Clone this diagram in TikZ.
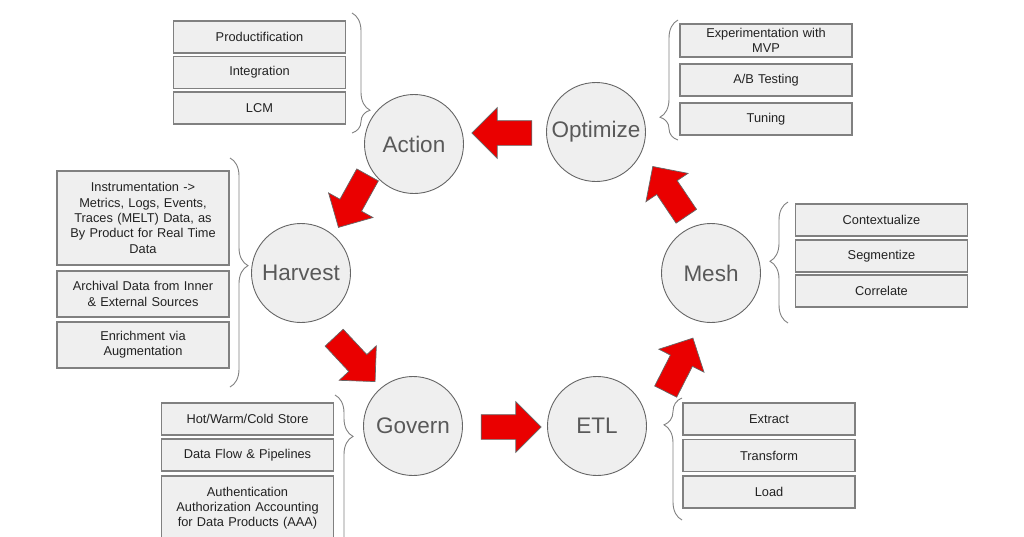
\documentclass[tikz,border=0pt]{standalone}
\usepackage{fontspec}
\setmainfont{Liberation Sans}
\usepackage{tikz}
\usetikzlibrary{calc,positioning,shapes.arrows,decorations.pathreplacing}
\definecolor{stagefill}{RGB}{239,239,239}
\definecolor{stageline}{RGB}{102,102,102}
\definecolor{stagetext}{RGB}{89,89,89}
\definecolor{boxline}{RGB}{128,128,128}
\definecolor{boxtext}{RGB}{34,34,34}
\definecolor{flowred}{RGB}{234,0,0}
\tikzset{
stage/.style={circle, draw=stageline, line width=0.9, fill=stagefill, minimum size=99pt, inner sep=0pt, text=stagetext, font=\fontsize{22.5}{27}\selectfont}, % the six round steps
item/.style={draw=boxline, line width=1.4, fill=stagefill, minimum width=172pt, minimum height=32pt, text width=168pt, align=center, inner sep=0pt, text=boxtext, font=\fontsize{12.8}{15.3}\selectfont},
flow/.style={single arrow, draw=stageline, line width=0.7, fill=flowred, minimum height=60pt, inner xsep=0pt, inner ysep=12pt, single arrow head extend=13pt}, % fat red arrows
curly/.style={decorate, draw=boxline, line width=0.9, decoration={brace, amplitude=18pt}},
}
\tikzset{
    between/.style args={#1 and #2}{
         at = ($(#1)!0.5!(#2)$)
    }
}
\begin{document}
\begin{tikzpicture}[x=1pt,y=1pt,yscale=-1,xscale=1]
		\useasboundingbox (0,0) rectangle (1024,536);
		
		% Steps
		\node[stage] (action) at (414,144) {Action};
		\node[stage] (optimize) at (596,132) {Optimize};
		\node[stage] (harvest) at (301,273) {Harvest};
		\node[stage] (govern) at (413,426) {Govern};
		\node[stage] (etl) at (597,426) {ETL};
		\node[stage] (mesh) at (711,273) {Mesh};
		
		% Arrows (shift is not flipped, so y goes up here)
		\node[flow, shift={(3,5)}, rotate=180, between=optimize and action] (a1) {};
		\node[flow, shift={(-1.5,12.75)}, rotate=241, between=action and harvest] (a2) {};
		\node[flow, shift={(-6.6,-5.6)}, rotate=313, between=harvest and govern] (a3) {};
		\node[flow, shift={(0,-1)}, rotate=0, between=govern and etl] (a4) {};
		\node[flow, shift={(22.5,-20.85)}, rotate=63, between=etl and mesh] (a5) {};
		\node[flow, shift={(19.5,6)}, rotate=124, between=mesh and optimize] (a6) {};
		
		% Action
		\node[item] (prod) at (259.5,37) {Productification};
		\node[item] (integ) at (259.5,72.5) {Integration};
		\node[item] (lcm) at (259.5,108) {LCM};
		\draw[curly, decoration={aspect=0.81}] (352,13) -- (352,133);
		
		% Optimize
		\node[item, minimum height=33pt] (expmvp) at (766,40.5) {Experimentation with\\MVP};
		\node[item] (abtest) at (766,80) {A/B Testing};
		\node[item] (tuning) at (766,119) {Tuning};
		\draw[curly, decoration={aspect=0.19}] (678,140) -- (678,20);
		
		% Harvest
		\node[item, minimum height=94pt] (instr) at (143,218) {Instrumentation ->\\Metrics, Logs, Events,\\Traces (MELT) Data, as\\By Product for Real Time\\Data};
		\node[item, minimum height=46pt] (archive) at (143,294) {Archival Data from Inner\\\& External Sources};
		\node[item, minimum height=46pt] (enrich) at (143,345) {Enrichment via\\Augmentation};
		\draw[curly, decoration={aspect=0.47}] (230,158) -- (230,387);
		
		% Govern
		\node[item] (store) at (247.5,419) {Hot/Warm/Cold Store};
		\node[item] (pipes) at (247.5,455) {Data Flow \& Pipelines};
		\node[item, minimum height=64pt] (aaa) at (247.5,508) {Authentication\\Authorization Accounting\\for Data Products (AAA)};
		\draw[curly, decoration={aspect=0.23}] (335,395) -- (335,575);
		
		% Mesh
		\node[item] (context) at (881.5,220) {Contextualize};
		\node[item] (segment) at (881.5,256) {Segmentize};
		\node[item] (correl) at (881.5,291) {Correlate};
		\draw[curly, decoration={aspect=0.51}] (788,323) -- (788,202);
		
		% ETL
		\node[item] (extract) at (769,419) {Extract};
		\node[item] (transform) at (769,455.5) {Transform};
		\node[item] (load) at (769,492) {Load};
		\draw[curly, decoration={aspect=0.78}] (682,520) -- (682,398);
		
\end{tikzpicture}
\end{document}
